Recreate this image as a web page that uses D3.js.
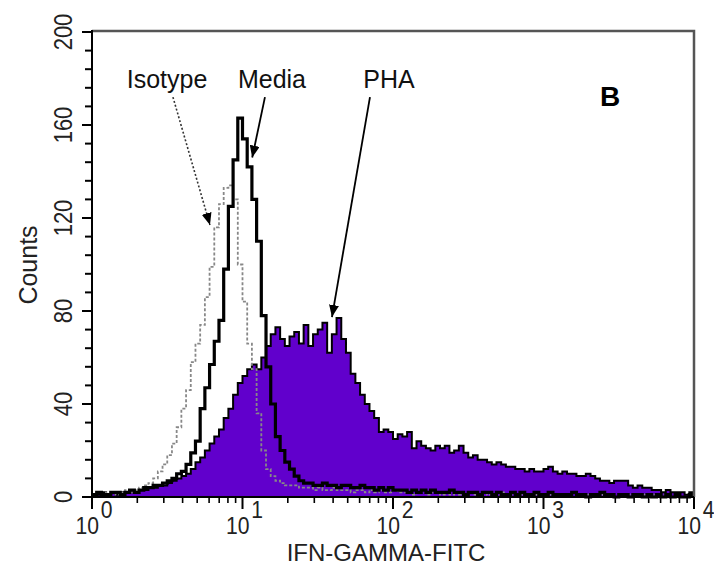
<!DOCTYPE html>
<html><head><meta charset="utf-8">
<script src="https://cdn.jsdelivr.net/npm/d3@7"></script>
<style>body{margin:0;background:#fff}svg{display:block}</style>
</head><body>
<svg id="c" width="714" height="565"></svg>
<script>
// 128 log-spaced channels spanning 10^0 .. 10^4
const channelCount = 128;
const isotype = [
 1,0,2,1,2,1,2,3,2,3,
 4,5,6,8,11,14,18,23,30,38,
 46,58,66,74,86,99,116,126,133,134,
 128,100,84,66,55,36,20,12,9,7,
 6,5,5,5,4,4,4,3,4,3,
 3,4,3,3,3,2,3,3,2,3,
 2,3,2,2,3,2,2,2,1,2,
 2,1,2,2,1,2,1,2,1,1,
 2,1,1,2,1,1,1,2,1,1,
 1,1,0,1,1,1,0,1,1,0,
 1,1,0,1,0,1,1,0,1,0,
 1,0,1,0,1,0,0,1,0,1,
 0,1,0,0,1,0,0,1
];
const media = [
 1,2,1,1,2,2,1,2,3,2,
 3,4,4,5,5,6,7,8,10,11,
 14,19,24,38,47,57,67,76,98,125,
 145,163,154,142,128,110,78,56,40,26,
 20,15,12,9,7,6,6,5,5,6,
 5,5,4,5,5,4,4,5,4,4,
 3,4,3,4,3,3,3,2,3,2,
 3,2,3,2,2,2,3,2,2,1,
 2,2,1,2,2,1,2,1,1,2,
 1,2,1,1,2,1,1,2,1,1,
 1,1,2,1,1,0,1,1,2,1,
 1,0,1,1,0,1,1,0,1,0,
 1,0,1,0,1,0,0,1
];
const pha = [
 1,1,2,1,2,1,2,2,3,2,
 3,3,4,4,5,5,6,7,8,9,
 10,12,15,17,20,23,26,29,34,38,
 44,49,52,55,57,55,60,65,70,73,
 68,65,69,71,66,74,65,70,72,75,
 62,70,77,68,62,53,49,44,40,37,
 34,28,29,28,25,27,26,28,21,24,
 22,21,20,22,21,22,19,20,22,19,
 17,18,16,16,15,14,15,14,13,13,
 12,12,11,12,11,11,12,13,11,10,
 11,10,10,9,9,10,9,8,7,7,
 6,7,7,7,5,4,5,4,4,3,
 3,2,3,2,2,2,1,2
];
const yTickValues = [0,40,80,120,160,200];
const yMinorStep = 8;
const xDecades = [0,1,2,3,4];
const xMinorMultipliers = [2,3,4,5,6,7,8,9];
const xTitle = "IFN-GAMMA-FITC";
const yTitle = "Counts";
const panelLabel = {text:"B", x:2767, y:168};
// annotation labels and arrows in data units
const annotations = [
 {label:"Isotype", lx:3.15, ly:176, x1:3.45, y1:172, x2:6.08, y2:117, dotted:true},
 {label:"Media",   lx:15.7, ly:176, x1:14.1, y1:172, x2:11.6, y2:146, dotted:false},
 {label:"PHA",     lx:94,   ly:176, x1:70.3, y1:172, x2:39.3, y2:77.4, dotted:false}
];

const svg = d3.select("#c");
const L=92, R=694, T=32, B=497;
const x = d3.scaleLog().domain([1,1e4]).range([L,R]);
const y = d3.scaleLinear().domain([0,200]).range([B,T]);
const FONT = "'Liberation Sans', Arial, sans-serif";

const channels = d3.range(channelCount);
const edge = i => Math.pow(10, 4*i/channelCount);
function pts(arr){ const p = channels.map(i=>[edge(i), arr[i]]); p.push([edge(channelCount), arr[channelCount-1]]); return p; }

const area = d3.area().x(d=>x(d[0])).y0(y(0)).y1(d=>y(d[1])).curve(d3.curveStepAfter);
const line = d3.line().x(d=>x(d[0])).y(d=>y(d[1])).curve(d3.curveStepAfter);

// PHA filled
svg.append("path").attr("d", area(pts(pha))).attr("fill","#6100cc");
svg.append("path").attr("d", line(pts(pha))).attr("fill","none").attr("stroke","#000").attr("stroke-width",2);
// isotype dashed
svg.append("path").attr("d", line(pts(isotype))).attr("fill","none").attr("stroke","#888").attr("stroke-width",1.8).attr("stroke-dasharray","3,2");
// media thick
svg.append("path").attr("d", line(pts(media))).attr("fill","none").attr("stroke","#000").attr("stroke-width",3.2);

// frame top/right
svg.append("path").attr("d",`M${L},${T-1}H${R}V${B}`).attr("fill","none").attr("stroke","#555").attr("stroke-width",2.5);
// axes lines
svg.append("line").attr("x1",L).attr("x2",L).attr("y1",T-2).attr("y2",B+1).attr("stroke","#000").attr("stroke-width",2);
svg.append("line").attr("x1",L-1).attr("x2",R).attr("y1",B).attr("y2",B).attr("stroke","#000").attr("stroke-width",2);

// y ticks
const yMinor = d3.range(0, 201, yMinorStep);
svg.selectAll(".ymt").data(yMinor).enter().append("line")
 .attr("x1", d=> yTickValues.includes(d)? L-10 : L-7).attr("x2", L)
 .attr("y1", d=>y(d)).attr("y2", d=>y(d)).attr("stroke","#000").attr("stroke-width",2);
svg.selectAll(".ytl").data(yTickValues).enter().append("text")
 .attr("transform", d=>`translate(72,${y(d)}) rotate(-90) scale(0.88,1)`)
 .attr("text-anchor","middle").attr("font-family",FONT).attr("font-size",25).attr("fill","#222")
 .text(d=>d);
svg.append("text").attr("transform",`translate(37,265) rotate(-90)`).attr("text-anchor","middle")
 .attr("font-family",FONT).attr("font-size",25).attr("fill","#222").text(yTitle);

// x ticks
const xMinor = [];
xDecades.slice(0,-1).forEach(d=>xMinorMultipliers.forEach(m=>xMinor.push(m*Math.pow(10,d))));
svg.selectAll(".xmn").data(xMinor).enter().append("line")
 .attr("x1", d=>x(d)).attr("x2", d=>x(d)).attr("y1",B).attr("y2",B+6).attr("stroke","#000").attr("stroke-width",1.6);
svg.selectAll(".xmj").data(xDecades).enter().append("line")
 .attr("x1", d=>x(Math.pow(10,d))).attr("x2", d=>x(Math.pow(10,d))).attr("y1",B).attr("y2",B+12).attr("stroke","#000").attr("stroke-width",2);
const xl = svg.selectAll(".xtl").data(xDecades).enter().append("g")
 .attr("transform", d=>`translate(${x(Math.pow(10,d))},0) scale(0.88,1)`);
xl.append("text").attr("x",8).attr("y",534).attr("text-anchor","end")
 .attr("font-family",FONT).attr("font-size",24).attr("fill","#222").text("10");
xl.append("text").attr("x",10).attr("y",518).attr("text-anchor","start")
 .attr("font-family",FONT).attr("font-size",24).attr("fill","#222").text(d=>d);
svg.append("text").attr("x",386).attr("y",561).attr("text-anchor","middle")
 .attr("font-family",FONT).attr("font-size",24).attr("fill","#222").text(xTitle);

// annotations
const defs = svg.append("defs");
defs.append("marker").attr("id","ah").attr("viewBox","0 0 12 10").attr("refX",12).attr("refY",5)
 .attr("markerWidth",12).attr("markerHeight",10).attr("markerUnits","userSpaceOnUse").attr("orient","auto")
 .append("path").attr("d","M0,0L12,5L0,10Z").attr("fill","#000");
annotations.forEach(a=>{
 svg.append("text").attr("x",x(a.lx)).attr("y",y(a.ly)).attr("text-anchor","middle")
  .attr("font-family",FONT).attr("font-size",25).attr("fill","#111").text(a.label);
 svg.append("line").attr("x1",x(a.x1)).attr("y1",y(a.y1)).attr("x2",x(a.x2)).attr("y2",y(a.y2))
  .attr("stroke", a.dotted? "#333":"#000").attr("stroke-width", a.dotted?1.6:1.8)
  .attr("stroke-dasharray", a.dotted? "2,2": null).attr("marker-end","url(#ah)");
});
svg.append("text").attr("x",x(panelLabel.x)).attr("y",y(panelLabel.y)).attr("text-anchor","middle")
 .attr("font-family",FONT).attr("font-size",28).attr("font-weight","bold").attr("fill","#000").text(panelLabel.text);
</script>
</body></html>
